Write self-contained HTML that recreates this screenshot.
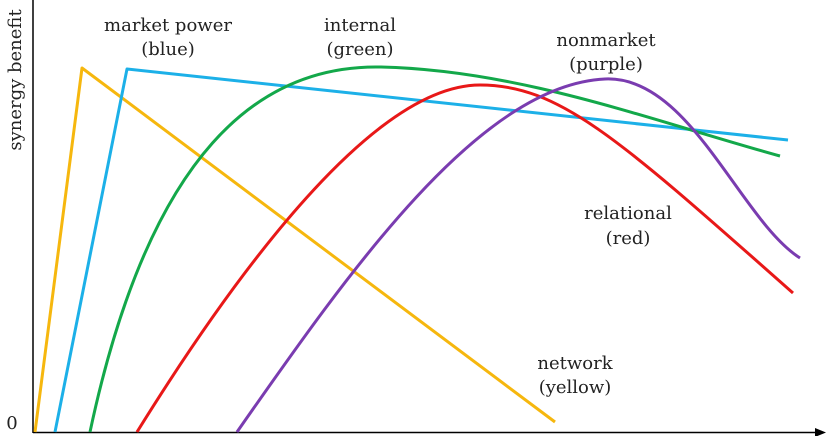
<!DOCTYPE html>
<html><head><style>
html,body{margin:0;padding:0;background:#fff;}
svg{display:block;}
text{font-family:"DejaVu Serif","Liberation Serif",serif;font-size:18px;fill:#222;}
</style></head><body>
<svg width="827" height="436" viewBox="0 0 827 436" xmlns="http://www.w3.org/2000/svg">
<line x1="33" y1="0" x2="33" y2="433" stroke="#000" stroke-width="1.5"/>
<line x1="33" y1="432.5" x2="818" y2="432.5" stroke="#000" stroke-width="1.5"/>
<polygon points="826,432.5 815,428 815,437" fill="#000"/>
<text x="12" y="429" text-anchor="middle">0</text>
<text transform="translate(21,80) rotate(-90)" text-anchor="middle">synergy benefit</text>
<g fill="none" stroke-width="3" stroke-linejoin="round">
<path d="M35,432 L82,68 L555,422" stroke="#f6b70e"/>
<path d="M55,432 L127,69 L788,140" stroke="#1cb0e8"/>
<path d="M90,432 C150,150 260,65 380,67 C520,70 650,120 780,156" stroke="#13a84a"/>
<path d="M137,432 C250,250 380,85 480,85 C560,85 620,140 793,293" stroke="#e81818"/>
<path d="M237,432 C350,270 480,85 605,79 C690,75 740,220 800,258" stroke="#7a3cb0"/>
</g>
<g text-anchor="middle">
<text x="168" y="31">market power</text>
<text x="168" y="55">(blue)</text>
<text x="360" y="31">internal</text>
<text x="360" y="55">(green)</text>
<text x="606" y="46">nonmarket</text>
<text x="606" y="70">(purple)</text>
<text x="628" y="219">relational</text>
<text x="628" y="244">(red)</text>
<text x="575" y="369">network</text>
<text x="575" y="393">(yellow)</text>
</g>
</svg>
</body></html>
